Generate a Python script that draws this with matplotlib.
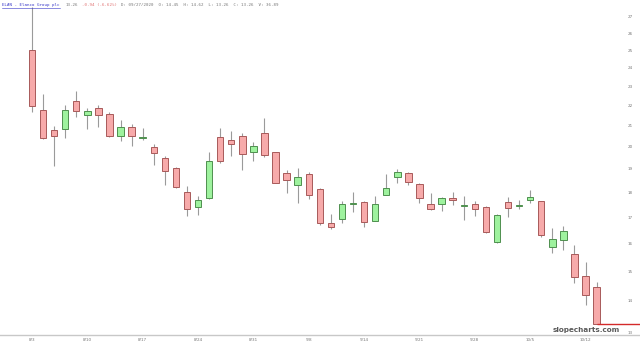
import matplotlib
matplotlib.use("Agg")
import matplotlib.pyplot as plt
import numpy as np

# ---- data ----
opens = [25.0, 21.77, 20.77, 20.82, 22.22, 21.52, 21.85, 21.55, 20.52, 20.94,
         20.39, 19.99, 19.49, 19.06, 18.0, 17.38, 17.78, 20.47, 20.3, 20.49,
         19.76, 20.64, 19.76, 18.82, 18.3, 18.79, 18.15, 16.76, 16.91, 17.52,
         17.61, 16.86, 17.89, 18.64, 18.82, 18.33, 17.53, 17.5, 17.78, 17.45,
         17.53, 17.4, 16.05, 17.61, 17.43, 17.68, 17.64, 15.86, 16.12, 15.62,
         14.83, 14.45]
highs = [27.6, 22.6, 20.97, 22.05, 22.75, 21.85, 22.02, 21.69, 21.27, 21.1,
         20.89, 20.14, 19.57, 19.1, 18.25, 17.83, 19.74, 20.89, 20.74, 20.64,
         20.22, 21.39, 19.78, 18.96, 19.03, 18.88, 18.2, 17.13, 17.64, 18.03,
         17.64, 17.85, 18.79, 19.0, 18.88, 18.4, 17.99, 17.8, 18.01, 17.85,
         17.64, 17.43, 17.1, 17.8, 17.68, 18.09, 17.66, 16.57, 16.65, 15.93,
         15.31, 14.62]
lows = [21.65, 20.37, 19.14, 20.39, 21.44, 20.82, 20.94, 20.47, 20.27, 20.02,
        20.3, 19.18, 18.29, 18.19, 17.04, 17.08, 17.71, 19.26, 19.56, 18.96,
        19.36, 19.53, 18.38, 17.95, 17.54, 17.71, 16.69, 16.53, 16.76, 17.18,
        16.63, 16.85, 17.88, 18.4, 18.29, 17.57, 17.26, 17.22, 17.46, 16.88,
        17.05, 16.38, 15.99, 16.99, 17.33, 17.57, 16.24, 15.66, 15.74, 14.6,
        13.87, 13.26]
closes = [21.95, 20.39, 20.49, 21.77, 21.74, 21.74, 21.52, 20.52, 20.94, 20.52,
          20.47, 19.71, 18.93, 18.21, 17.33, 17.67, 19.36, 19.33, 20.14, 19.67,
          20.02, 19.64, 18.4, 18.54, 18.65, 17.89, 16.76, 16.63, 17.53, 17.55,
          16.82, 17.5, 18.2, 18.86, 18.45, 17.78, 17.32, 17.78, 17.68, 17.46,
          17.33, 16.43, 17.08, 17.36, 17.47, 17.82, 16.31, 16.14, 16.46, 14.8,
          14.2, 13.26]
date_labels = ["8/3", "8/10", "8/17", "8/24", "8/31", "9/8", "9/14", "9/21",
               "9/28", "10/5", "10/12"]
price_ticks = list(range(13, 28))

title_name = "ELAN - Elanco Group plc"
title_last = "13.26"
title_chg = "-0.94 (-6.62%)"
title_rest = "D: 09/27/2020  O: 14.45  H: 14.62  L: 13.26  C: 13.26  V: 36.89"

W, H = 640, 345
fig = plt.figure(figsize=(W / 100, H / 100), dpi=100)
ax = fig.add_axes([0, 10 / H, 1, (H - 10) / H])

n = len(opens)
x = np.arange(n)
spacing = 11.07
x0 = 32
ax.set_xlim(-x0 / spacing, (W - x0) / spacing)
ax.set_yscale("log")
ax.set_ylim(12.94, 28.08)

red_face, red_edge = "#f7aaaa", "#a85a5a"
grn_face, grn_edge = "#9ef29e", "#4f8f4f"

for i in range(n):
    o, h, l, c = opens[i], highs[i], lows[i], closes[i]
    up = c >= o
    ax.vlines(x[i], l, h, color="#9a9a9a", lw=0.8, zorder=1)
    bot = min(o, c)
    height = max(abs(c - o), 0.02)
    ax.bar(x[i], height, bottom=bot, width=0.58,
           facecolor=grn_face if up else red_face,
           edgecolor=grn_edge if up else red_edge, lw=0.7, zorder=2)

# last price line
ax.hlines(closes[-1], n - 1, (W - x0) / spacing, color="#d42a2a", lw=1.0,
          zorder=3, clip_on=False)

ax.yaxis.tick_right()
ax.set_yticks(price_ticks)
ax.set_yticklabels([str(v) for v in price_ticks])
ax.yaxis.set_minor_locator(matplotlib.ticker.NullLocator())
ax.tick_params(axis="y", length=0, pad=-9, labelsize=3, labelcolor="#777777")
ax.set_xticks(x[::5])
ax.set_xticklabels(date_labels)
ax.tick_params(axis="x", length=0, pad=2, labelsize=3, labelcolor="#777777")

for s in ["top", "left", "right"]:
    ax.spines[s].set_visible(False)
ax.spines["bottom"].set_color("#c8c8c8")
ax.spines["bottom"].set_linewidth(1.0)

ax.text(620 / W, (H - 330 - 10) / (H - 10), "slopecharts.com",
        transform=ax.transAxes, ha="right", va="center",
        fontsize=5.2, color="#5a5a5a", fontweight="bold", zorder=4)

ty = 1 - 5 / H
mono = "DejaVu Sans Mono"
fs = 3.0
fig.text(2 / W, ty, title_name, fontsize=fs, family=mono, color="#3535c8",
         va="center", ha="left")
fig.add_artist(plt.Line2D([2 / W, 60 / W], [1 - 7.5 / H, 1 - 7.5 / H],
                          color="#3535c8", lw=0.4))
fig.text(66 / W, ty, title_last, fontsize=fs, family=mono, color="#777777",
         va="center", ha="left")
fig.text(82 / W, ty, title_chg, fontsize=fs, family=mono, color="#e07070",
         va="center", ha="left")
fig.text(121 / W, ty, title_rest, fontsize=fs, family=mono, color="#777777",
         va="center", ha="left")

fig.savefig("out.png", dpi=100)
